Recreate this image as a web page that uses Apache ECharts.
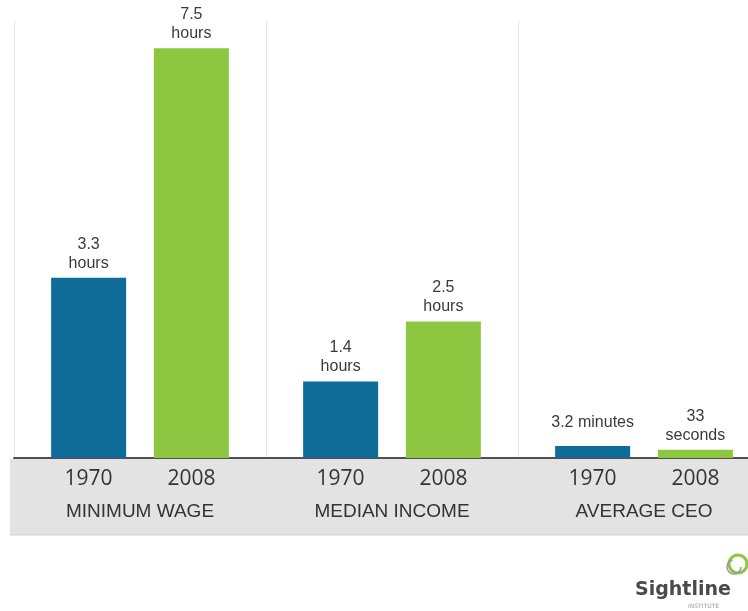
<!DOCTYPE html>
<html>
<head>
<meta charset="utf-8">
<script src="https://cdn.jsdelivr.net/npm/echarts@6/dist/echarts.min.js"></script>
<style>
  html, body { margin: 0; padding: 0; background: #fff; }
  #chart { width: 748px; height: 611px; }
</style>
</head>
<body>
<div id="chart"></div>
<script>
// groups along the axis
const groups = ['MINIMUM WAGE', 'MEDIAN INCOME', 'AVERAGE CEO'];
const years = ['1970', '2008'];

// bar heights as drawn (hours of work; CEO bars are drawn larger than scale)
const values1970 = [3.3, 1.4, 0.22];
const values2008 = [7.5, 2.5, 0.15];

// labels printed over the bars
const labels1970 = ['3.3\nhours', '1.4\nhours', '3.2 minutes'];
const labels2008 = ['7.5\nhours', '2.5\nhours', '33\nseconds'];

const chart = echarts.init(document.getElementById('chart'));

const labelStyle = (texts) => ({
    show: true,
    position: 'top',
    distance: 5,
    color: '#3a3a3a',
    fontFamily: 'Liberation Sans',
    fontSize: 16,
    lineHeight: 19,
    formatter: (p) => texts[p.dataIndex]
});

// the single-line CEO label sits level with its two-line neighbour
const data1970 = values1970.map((v, i) =>
    i === 2 ? { value: v, label: { distance: 14 } } : v);

const option = {
    backgroundColor: '#fff',
    animation: false,
    // grid runs past the right edge: the last group is cut off in the original
    grid: { left: 14, width: 756, top: 21, bottom: 153, outerBoundsMode: 'none' },
    xAxis: {
        type: 'category',
        data: groups,
        axisLine: { lineStyle: { color: '#505050', width: 2 } },
        axisTick: { show: false },
        splitLine: { show: true, lineStyle: { color: '#e4e4e4', width: 1 } },
        axisLabel: {
            margin: 5,
            formatter: (v) => '{y|' + years[0] + '}{y|' + years[1] + '}\n{n|' + v + '}',
            rich: {
                y: {
                    width: 103, align: 'center', fontSize: 21, lineHeight: 32,
                    color: '#333', fontFamily: 'Open Sans'
                },
                n: {
                    fontSize: 19, lineHeight: 34, color: '#333',
                    fontFamily: 'Liberation Sans'
                }
            }
        }
    },
    yAxis: {
        type: 'value',
        min: 0,
        max: 8,
        show: false,
        splitLine: { show: false }
    },
    graphic: [
        {
            type: 'rect',
            z: -1,
            shape: { x: 10, y: 459, width: 740, height: 76 },
            style: { fill: '#e3e3e3' }
        },
        {
            type: 'line',
            z: -1,
            shape: { x1: 10, y1: 535, x2: 748, y2: 535 },
            style: { stroke: '#d0d0d0', lineWidth: 1 }
        },
        // Sightline logo
        {
            type: 'circle',
            shape: { cx: 738, cy: 564, r: 9 },
            style: { fill: 'none', stroke: '#8dc641', lineWidth: 3 }
        },
        {
            type: 'arc',
            shape: { cx: 734, cy: 567, r: 7, startAngle: 0, endAngle: 4.5 },
            style: { fill: 'none', stroke: '#9a9a9a', lineWidth: 1.5 }
        },
        {
            type: 'text',
            x: 635,
            y: 581,
            style: {
                text: 'Sightline', fill: '#4a4a4a',
                font: 'bold 19px DejaVu Sans'
            }
        },
        {
            type: 'text',
            x: 688,
            y: 603,
            style: {
                text: 'INSTITUTE', fill: '#999',
                font: '6px DejaVu Sans'
            }
        }
    ],
    series: [
        {
            name: years[0],
            type: 'bar',
            data: data1970,
            barWidth: 75,
            barGap: '37%',
            itemStyle: { color: '#0f6b97' },
            label: labelStyle(labels1970)
        },
        {
            name: years[1],
            type: 'bar',
            data: values2008,
            barWidth: 75,
            itemStyle: { color: '#8dc641' },
            label: labelStyle(labels2008)
        }
    ]
};

chart.setOption(option);
</script>
</body>
</html>
